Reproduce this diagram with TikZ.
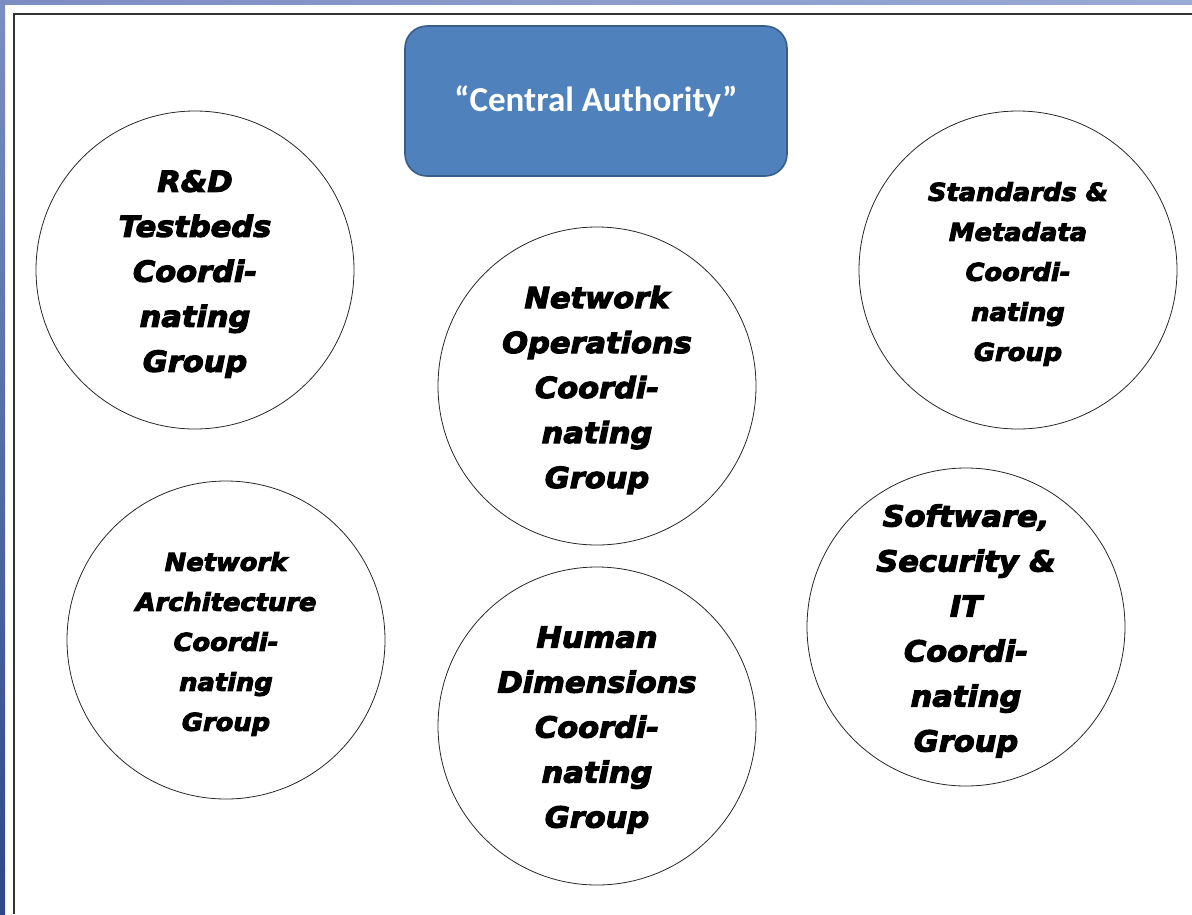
\documentclass[tikz,border=0pt]{standalone}
\usepackage{fontspec}
\usepackage{tikz}
\newfontfamily\heavy[FakeStretch=1.05,FakeBold=4]{DejaVu Sans Bold Oblique}
\newfontfamily\boxfont{Carlito}

\definecolor{slideblue}{HTML}{4F81BD}
\definecolor{slideedge}{HTML}{385D8A}
\definecolor{barlight}{HTML}{9AAAD4}
\definecolor{barmid}{HTML}{7D8DC3}
\definecolor{bardark}{HTML}{2C4888}

\tikzset{
  group/.style={circle, draw=black!85, line width=0.8pt, minimum size=318pt,
    inner sep=0pt},
  % group names sit a little below the middle of the ring
  bigname/.style={align=center, yshift=-4pt, inner sep=0pt,
    font=\heavy\fontsize{29}{45}\selectfont},
  smallname/.style={align=center, yshift=-4pt, inner sep=0pt,
    font=\heavy\fontsize{24.5}{40}\selectfont},
  authority/.style={rectangle, rounded corners=22pt, fill=slideblue,
    draw=slideedge, line width=1.6pt, minimum width=382pt, minimum height=150pt,
    text=white, font=\boxfont\bfseries\fontsize{35}{40}\selectfont}
}

\begin{document}
\begin{tikzpicture}[x=1pt,y=-1pt]
\useasboundingbox (0,0) rectangle (1192,914);
% slide frame
\shade [left color=barmid, right color=barlight] (0,0) rectangle (1192,4);
\shade [top color=barmid, bottom color=bardark] (0,0) rectangle (5,914);
\draw [black!80, line width=1.5pt] (1192,14) -- (14,14) -- (14,914);

\node [authority] (ca) at (596,101) {“Central Authority”};

\node [group, label={[bigname]center:{R\&D\\Testbeds\\Coordi-\\nating\\Group}}] (rd) at (195,270) {};
\node [group, label={[bigname]center:{Network\\Operations\\Coordi-\\nating\\Group}}] (netop) at (597,386) {};
\node [group, label={[smallname]center:{Standards \&\\Metadata\\Coordi-\\nating\\Group}}] (std) at (1018,270) {};
\node [group, label={[smallname]center:{Network\\Architecture\\Coordi-\\nating\\Group}}] (arch) at (226,640) {};
\node [group, label={[bigname]center:{Human\\Dimensions\\Coordi-\\nating\\Group}}] (human) at (597,726) {};
\node [group, label={[bigname]center:{Software,\\Security \&\\IT\\Coordi-\\nating\\Group}}] (soft) at (966,627) {};
\end{tikzpicture}
\end{document}
